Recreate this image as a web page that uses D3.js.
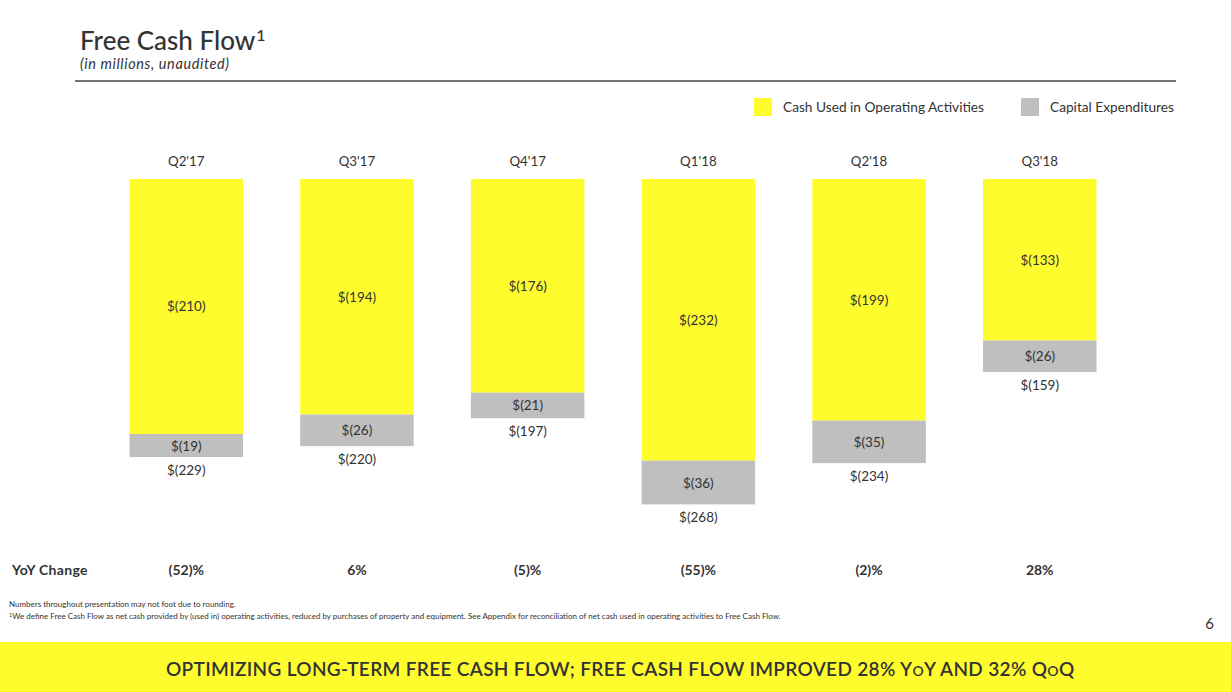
<!DOCTYPE html>
<html>
<head>
<meta charset="utf-8">
<script src="https://d3js.org/d3.v7.min.js"></script>
<style>
    body { margin: 0; background: #fff; }
    svg { display: block; font-family: Lato, "Noto Sans", sans-serif; }
</style>
</head>
<body>
<svg id="chart" width="1231" height="692"></svg>
<script>
    // data
    const quarters = ["Q2'17", "Q3'17", "Q4'17", "Q1'18", "Q2'18", "Q3'18"];
    const operating = [210, 194, 176, 232, 199, 133];
    const capex = [19, 26, 21, 36, 35, 26];
    const totals = [229, 220, 197, 268, 234, 159];
    const yoy = ["(52)%", "6%", "(5)%", "(55)%", "(2)%", "28%"];
    const seriesNames = ["Cash Used in Operating Activities", "Capital Expenditures"];

    const yellow = "#fffc2e", grey = "#bfbfbf", ink = "#333";

    const svg = d3.select("#chart");

    // title block
    const title = svg.append("text").attr("x", 80).attr("y", 50)
        .attr("font-size", 26).attr("fill", ink).attr("font-weight", 500);
    title.append("tspan").text("Free Cash Flow");
    title.append("tspan").attr("dx", 1).attr("dy", -9).attr("font-size", 16).text("1");
    svg.append("text").attr("x", 80).attr("y", 69)
        .attr("font-size", 14.5).attr("font-style", "italic").attr("fill", ink)
        .attr("letter-spacing", 0.6)
        .text("(in millions, unaudited)");
    svg.append("line").attr("x1", 75).attr("x2", 1176).attr("y1", 81).attr("y2", 81)
        .attr("stroke", "#444").attr("stroke-width", 1.5);

    // legend
    const legend = [{x: 754, c: yellow, t: seriesNames[0]}, {x: 1021, c: grey, t: seriesNames[1]}];
    legend.forEach(function(d) {
        svg.append("rect").attr("x", d.x).attr("y", 98).attr("width", 18).attr("height", 18).attr("fill", d.c);
        svg.append("text").attr("x", d.x + 29).attr("y", 112).attr("font-size", 13.7)
            .attr("fill", ink).text(d.t);
    });

    // scales
    const x = d3.scaleBand().domain(quarters).range([129.5, 1096.5]).paddingInner(0.335).paddingOuter(0);
    const y = d3.scaleLinear().domain([0, 268]).range([179, 504.4]);
    const cx = q => x(q) + x.bandwidth() / 2;

    const rows = quarters.map((q, i) => ({q: q, op: operating[i], cap: capex[i], tot: totals[i], yoy: yoy[i]}));

    const g = svg.append("g");

    // quarter labels on top
    g.selectAll(".qlab").data(rows).join("text")
        .attr("x", d => cx(d.q)).attr("y", 166).attr("text-anchor", "middle")
        .attr("font-size", 13.3).attr("fill", ink).text(d => d.q);

    // operating cash (yellow) hangs from the top
    g.selectAll(".op").data(rows).join("rect")
        .attr("x", d => x(d.q)).attr("width", x.bandwidth())
        .attr("y", y(0)).attr("height", d => y(d.op) - y(0))
        .attr("fill", yellow);

    // capex (grey) stacked below
    g.selectAll(".cap").data(rows).join("rect")
        .attr("x", d => x(d.q)).attr("width", x.bandwidth())
        .attr("y", d => y(d.op)).attr("height", d => y(d.op + d.cap) - y(d.op))
        .attr("fill", grey);

    // labels
    g.selectAll(".oplab").data(rows).join("text")
        .attr("x", d => cx(d.q)).attr("y", d => (y(0) + y(d.op)) / 2 + 5)
        .attr("text-anchor", "middle").attr("font-size", 13.5).attr("fill", ink)
        .text(d => "$(" + d.op + ")");
    g.selectAll(".caplab").data(rows).join("text")
        .attr("x", d => cx(d.q)).attr("y", d => (y(d.op) + y(d.op + d.cap)) / 2 + 5)
        .attr("text-anchor", "middle").attr("font-size", 13.5).attr("fill", ink)
        .text(d => "$(" + d.cap + ")");
    g.selectAll(".totlab").data(rows).join("text")
        .attr("x", d => cx(d.q)).attr("y", d => y(d.op + d.cap) + 18)
        .attr("text-anchor", "middle").attr("font-size", 13.5).attr("fill", ink)
        .text(d => "$(" + d.tot + ")");

    // YoY row
    svg.append("text").attr("x", 12).attr("y", 575).attr("font-size", 14)
        .attr("font-weight", 700).attr("fill", ink).attr("letter-spacing", 0.3).text("YoY Change");
    g.selectAll(".yoy").data(rows).join("text")
        .attr("x", d => cx(d.q)).attr("y", 575).attr("text-anchor", "middle")
        .attr("font-size", 14).attr("font-weight", 700).attr("fill", ink)
        .text(d => d.yoy);

    // footnotes
    svg.append("text").attr("x", 9).attr("y", 607).attr("font-size", 8).attr("fill", ink)
        .text("Numbers throughout presentation may not foot due to rounding.");
    const fn = svg.append("text").attr("x", 9).attr("y", 619).attr("font-size", 8).attr("fill", ink);
    fn.append("tspan").attr("font-size", 5.5).attr("dy", -2.5).text("1");
    fn.append("tspan").attr("dy", 2.5)
        .text("We define Free Cash Flow as net cash provided by (used in) operating activities, reduced by purchases of property and equipment. See Appendix for reconciliation of net cash used in operating activities to Free Cash Flow.");
    svg.append("text").attr("x", 1214).attr("y", 629).attr("text-anchor", "end")
        .attr("font-size", 15).attr("fill", ink).text("6");

    // bottom banner
    svg.append("rect").attr("x", 0).attr("y", 642).attr("width", 1231).attr("height", 50).attr("fill", yellow);
    const ban = svg.append("text").attr("x", 166).attr("y", 676).attr("font-size", 19)
        .attr("font-weight", 600).attr("fill", ink).attr("letter-spacing", 0.33);
    ban.append("tspan").text("OPTIMIZING LONG-TERM FREE CASH FLOW; FREE CASH FLOW IMPROVED 28% Y");
    ban.append("tspan").attr("font-size", 14).text("O");
    ban.append("tspan").text("Y AND 32% Q");
    ban.append("tspan").attr("font-size", 14).text("O");
    ban.append("tspan").text("Q");
</script>
</body>
</html>
